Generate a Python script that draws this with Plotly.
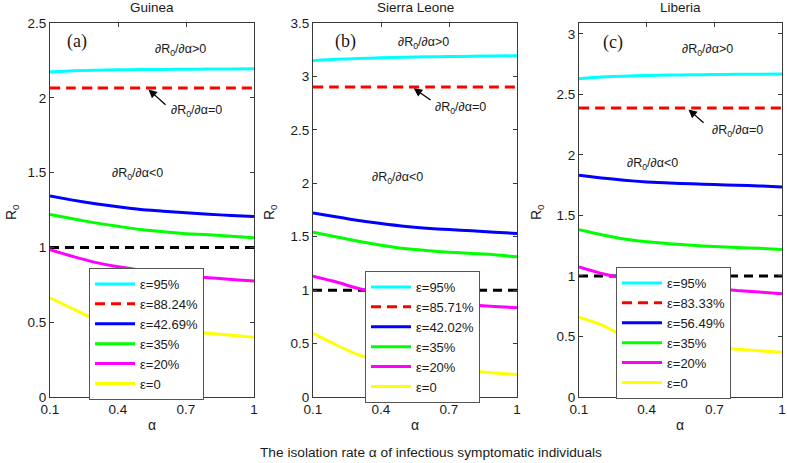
import plotly.graph_objects as go

# ---------------- data ----------------
alpha = [0.1, 0.2, 0.3, 0.4, 0.5, 0.6, 0.7, 0.8, 0.9, 1.0]
x_ticks = [0.1, 0.4, 0.7, 1.0]
x_tick_labels = ["0.1", "0.4", "0.7", "1"]

countries = ["Guinea", "Sierra Leone", "Liberia"]
panel_tags = ["(a)", "(b)", "(c)"]

# Guinea
guinea_labels = ["ε=95%", "ε=88.24%", "ε=42.69%", "ε=35%", "ε=20%", "ε=0"]
guinea_eps95 = [2.172, 2.180, 2.184, 2.187, 2.189, 2.190, 2.191, 2.192, 2.193, 2.194]
guinea_crit = [2.065] * 10
guinea_eps_mid = [1.343, 1.316, 1.292, 1.271, 1.253, 1.242, 1.231, 1.222, 1.213, 1.206]
guinea_eps35 = [1.220, 1.191, 1.164, 1.141, 1.119, 1.104, 1.092, 1.084, 1.075, 1.064]
guinea_eps20 = [0.985, 0.940, 0.900, 0.870, 0.848, 0.829, 0.812, 0.797, 0.786, 0.776]
guinea_eps0 = [0.662, 0.590, 0.520, 0.490, 0.468, 0.452, 0.438, 0.426, 0.413, 0.400]

# Sierra Leone
sl_labels = ["ε=95%", "ε=85.71%", "ε=42.02%", "ε=35%", "ε=20%", "ε=0"]
sl_eps95 = [3.147, 3.160, 3.168, 3.174, 3.179, 3.183, 3.186, 3.189, 3.191, 3.193]
sl_crit = [2.900] * 10
sl_eps_mid = [1.723, 1.686, 1.651, 1.623, 1.598, 1.580, 1.567, 1.555, 1.542, 1.530]
sl_eps35 = [1.542, 1.499, 1.458, 1.421, 1.390, 1.371, 1.355, 1.343, 1.331, 1.312]
sl_eps20 = [1.131, 1.078, 1.015, 0.970, 0.930, 0.900, 0.880, 0.862, 0.848, 0.835]
sl_eps0 = [0.595, 0.490, 0.395, 0.340, 0.300, 0.275, 0.255, 0.242, 0.225, 0.210]

# Liberia
lib_labels = ["ε=95%", "ε=83.33%", "ε=56.49%", "ε=35%", "ε=20%", "ε=0"]
lib_eps95 = [2.630, 2.643, 2.651, 2.656, 2.660, 2.662, 2.664, 2.666, 2.667, 2.668]
lib_crit = [2.387] * 10
lib_eps_mid = [1.832, 1.810, 1.791, 1.777, 1.769, 1.761, 1.755, 1.749, 1.744, 1.736]
lib_eps35 = [1.382, 1.341, 1.305, 1.283, 1.267, 1.253, 1.244, 1.236, 1.228, 1.219]
lib_eps20 = [1.074, 1.020, 0.980, 0.950, 0.930, 0.912, 0.898, 0.880, 0.867, 0.853]
lib_eps0 = [0.660, 0.596, 0.505, 0.475, 0.450, 0.430, 0.412, 0.395, 0.382, 0.370]

threshold = [1.0] * 10

y_ranges = [[0, 2.5], [0, 3.5], [0, 3.09]]
y_tick_vals = [[0, 0.5, 1, 1.5, 2, 2.5],
               [0, 0.5, 1, 1.5, 2, 2.5, 3, 3.5],
               [0, 0.5, 1, 1.5, 2, 2.5, 3]]

series_sets = [
    (guinea_labels, [guinea_eps95, guinea_crit, guinea_eps_mid, guinea_eps35, guinea_eps20, guinea_eps0]),
    (sl_labels, [sl_eps95, sl_crit, sl_eps_mid, sl_eps35, sl_eps20, sl_eps0]),
    (lib_labels, [lib_eps95, lib_crit, lib_eps_mid, lib_eps35, lib_eps20, lib_eps0]),
]

colors = ["#00FFFF", "#FF0000", "#0000FF", "#00FF00", "#FF00FF", "#FFFF00"]
dashes = ["solid", "10px,6px", "solid", "solid", "solid", "solid"]

# ---------------- layout helpers ----------------
W, H = 787, 463
def px(x):
    return x / W
def py(y):
    return 1 - y / H

x_domains = [[50, 254], [313, 517], [579, 782]]
y_top, y_bot = 23, 397
legend_pos = [(89, 268), (365, 271), (616, 267)]

FONT = "Liberation Sans, Arial, sans-serif"
TXT = "#1a1a1a"
AX = "#3a3a3a"

fig = go.Figure()

for i in range(3):
    xa = "x" if i == 0 else f"x{i+1}"
    ya = "y" if i == 0 else f"y{i+1}"
    lg = "legend" if i == 0 else f"legend{i+1}"
    fig.add_trace(go.Scatter(x=alpha, y=threshold, mode="lines", xaxis=xa, yaxis=ya,
                             line=dict(color="black", width=3, dash="9px,6px"),
                             showlegend=False, hoverinfo="skip"))
    labels, sets = series_sets[i]
    for k in range(6):
        fig.add_trace(go.Scatter(x=alpha, y=sets[k], mode="lines", name=labels[k],
                                 xaxis=xa, yaxis=ya, legend=lg,
                                 line=dict(color=colors[k], width=3, dash=dashes[k],
                                           shape="spline", smoothing=0.6)))

layout = dict(template="none", width=W, height=H,
              margin=dict(l=0, r=0, t=0, b=0, pad=0, autoexpand=False),
              paper_bgcolor="white", plot_bgcolor="white",
              font=dict(family=FONT, size=13, color=TXT))

for i in range(3):
    xk = "xaxis" if i == 0 else f"xaxis{i+1}"
    yk = "yaxis" if i == 0 else f"yaxis{i+1}"
    layout[xk] = dict(domain=[px(x_domains[i][0]), px(x_domains[i][1])],
                      anchor="y" if i == 0 else f"y{i+1}",
                      range=[0.1, 1.0], tickvals=x_ticks, ticktext=x_tick_labels,
                      ticks="inside", ticklen=4, tickcolor=AX,
                      showline=True, linecolor=AX, linewidth=1, mirror="ticks",
                      showgrid=False, zeroline=False, automargin=False,
                      ticklabeloverflow="allow",
                      tickfont=dict(family=FONT, size=13.5, color=TXT))
    layout[yk] = dict(domain=[py(y_bot), py(y_top)],
                      anchor="x" if i == 0 else f"x{i+1}",
                      range=y_ranges[i], tickvals=y_tick_vals[i],
                      ticks="inside", ticklen=4, tickcolor=AX,
                      showline=True, linecolor=AX, linewidth=1, mirror="ticks",
                      showgrid=False, zeroline=False, automargin=False,
                      ticklabeloverflow="allow",
                      tickfont=dict(family=FONT, size=13.5, color=TXT))
    lk = "legend" if i == 0 else f"legend{i+1}"
    lx, ly = legend_pos[i]
    layout[lk] = dict(x=px(lx), y=py(ly), xanchor="left", yanchor="top",
                      xref="paper", yref="paper",
                      bgcolor="white", bordercolor="#555555", borderwidth=1,
                      font=dict(family=FONT, size=13, color=TXT),
                      itemwidth=40, tracegroupgap=0)

fig.update_layout(**layout)

ann = []
def text(x, y, s, size=13, family=FONT, angle=0, xanchor="center"):
    ann.append(dict(x=px(x), y=py(y), xref="paper", yref="paper", text=s,
                    showarrow=False, xanchor=xanchor, yanchor="middle",
                    textangle=angle, font=dict(family=family, size=size, color=TXT)))

title_x = [152, 415, 680]
for i in range(3):
    text(title_x[i], 8, countries[i], size=13.5)
    text(title_x[i], 425, "α", size=14)

ylab_x = [12, 270, 537]
for i in range(3):
    text(ylab_x[i], 212, "R<sub>0</sub>", size=14, angle=-90)

tag_pos = [(77, 42), (345, 42), (613, 43)]
for i in range(3):
    text(tag_pos[i][0], tag_pos[i][1], panel_tags[i], size=18, family="Liberation Serif, Times New Roman, serif")

gt_pos = [(180, 50), (423, 43), (707, 50)]
eq_pos = [(196, 111), (460, 108), (737, 131)]
lt_pos = [(137, 174), (397, 178), (652, 164)]
for i in range(3):
    text(gt_pos[i][0], gt_pos[i][1], "∂R<sub>0</sub>/∂α&gt;0", size=12.5)
    text(eq_pos[i][0], eq_pos[i][1], "∂R<sub>0</sub>/∂α=0", size=12.5)
    text(lt_pos[i][0], lt_pos[i][1], "∂R<sub>0</sub>/∂α&lt;0", size=12.5)

# arrows pointing at the critical (dashed red) curves
arrow_tips = [(0.528, guinea_crit[0]), (0.537, sl_crit[0]), (0.579, lib_crit[0])]
arrow_off = [(20, 16), (20, 12), (18, 14)]
for i in range(3):
    xa = "x" if i == 0 else f"x{i+1}"
    ya = "y" if i == 0 else f"y{i+1}"
    ann.append(dict(x=arrow_tips[i][0], y=arrow_tips[i][1], xref=xa, yref=ya, text="",
                    showarrow=True, arrowhead=2, arrowsize=1.3, arrowwidth=1.3,
                    arrowcolor="black", ax=arrow_off[i][0], ay=arrow_off[i][1] + 2,
                    standoff=2))

text(431, 452, "The isolation rate α of infectious symptomatic individuals", size=13.7)

fig.update_layout(annotations=ann)
fig.write_html("out.html", config={"displayModeBar": False},
               post_script="document.body.style.margin='0';document.body.style.padding='0';")
